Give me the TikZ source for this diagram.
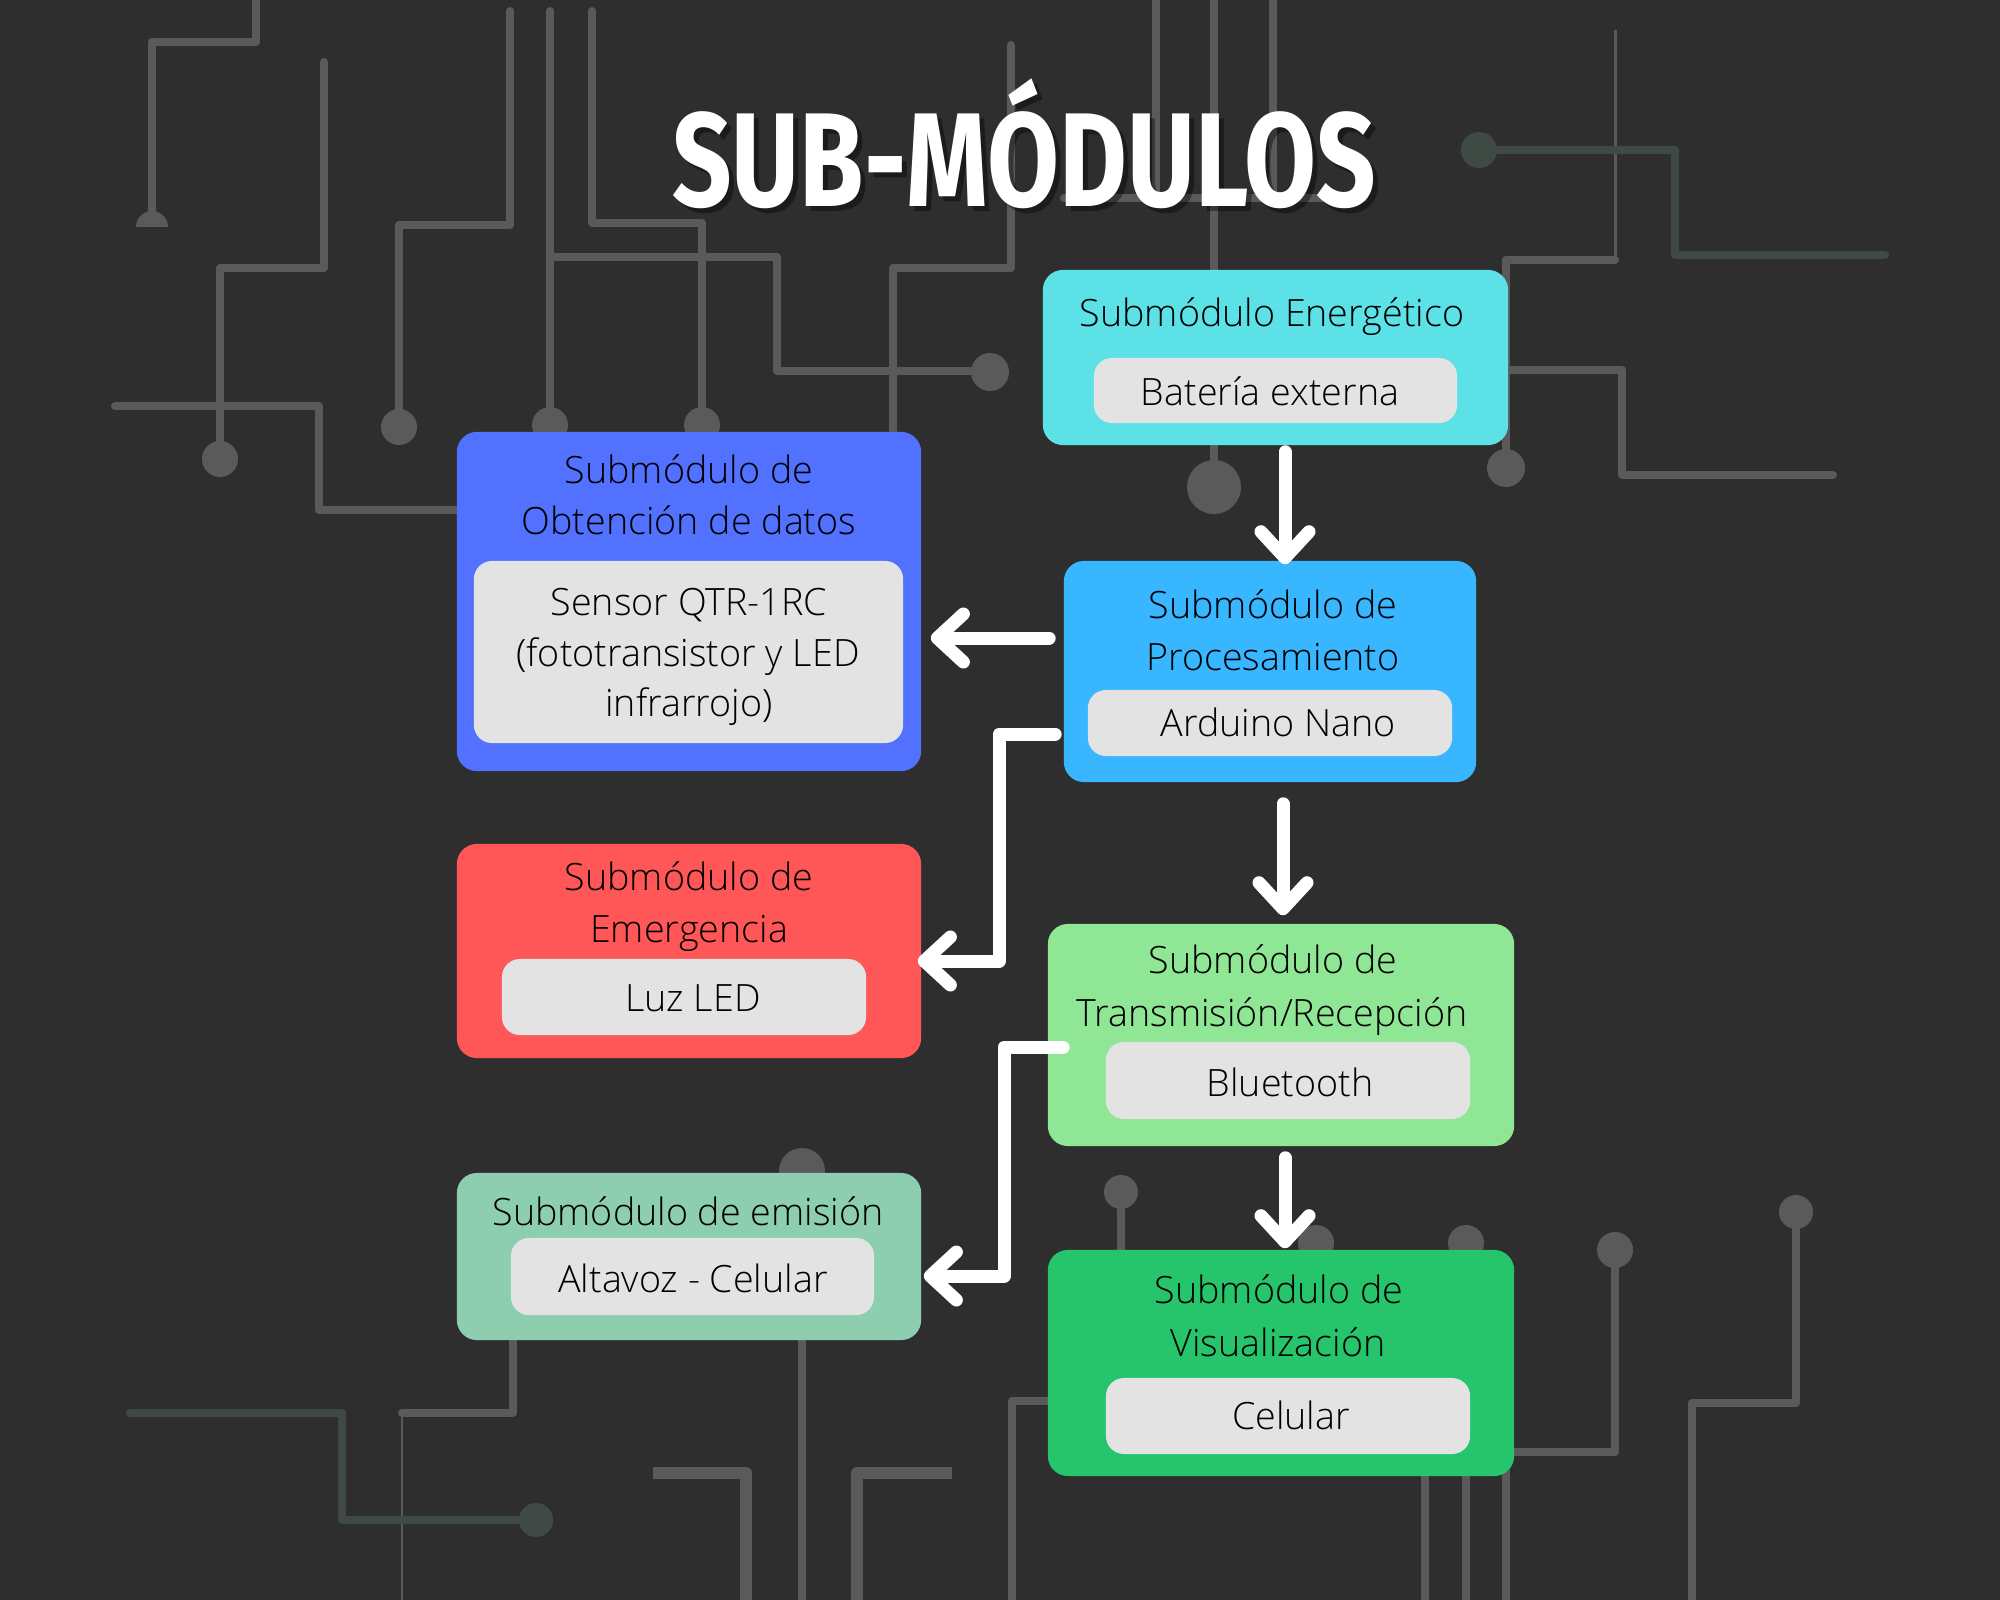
\documentclass[tikz,border=0pt]{standalone}
\usepackage{fontspec}
\setmainfont{Open Sans}[UprightFont={* Light}]
\newfontfamily\ttlfont{Fira Sans}
\usetikzlibrary{arrows.meta}
\definecolor{bg}{HTML}{2E2E2E}
\definecolor{cEn}{HTML}{5CE1E6}
\definecolor{cPr}{HTML}{38B6FF}
\definecolor{cOb}{HTML}{5271FF}
\definecolor{cEm}{HTML}{FF5757}
\definecolor{cEs}{HTML}{8DCEB0}
\definecolor{cTr}{HTML}{8FE695}
\definecolor{cVi}{HTML}{26C46B}
\definecolor{cIn}{HTML}{E3E3E3}
\definecolor{cLine}{HTML}{5A5A5A}
\definecolor{cGr}{HTML}{3F4A44}
\begin{document}
\begin{tikzpicture}[x=0.01cm,y=-0.01cm,
  trace/.style={draw=cLine, line width=0.08cm, line cap=round, line join=round},
  gtrace/.style={draw=cGr, line width=0.08cm, line cap=round, line join=round},
  pad/.style={fill=cLine},
  gpad/.style={fill=cGr},
  box/.style={rounded corners=0.2cm, inner sep=0pt, draw=none},
  inbox/.style={rounded corners=0.18cm, inner sep=0pt, draw=none, fill=cIn},
  txt/.style={font=\fontsize{10.7pt}{12pt}\selectfont, text=black, inner sep=0pt, anchor=base},
  arr/.style={draw=white, line width=0.13cm, line cap=round, line join=round,
    -{Straight Barb[length=0.26cm,width=0.48cm,round]}},
  ttl/.style={font=\ttlfont\bfseries\fontsize{38pt}{40pt}\selectfont, inner sep=0pt, anchor=base}
]
% background
\fill[bg] (0,0) rectangle (2000,1600);
\useasboundingbox (0,0) rectangle (2000,1600);

% ---------- circuit traces ----------
\draw[trace] (256,0) -- (256,42) -- (152,42) -- (152,218);
\fill[pad] (136,227) arc[start angle=180,end angle=0,radius=0.16cm] -- cycle;
\draw[trace] (324,62) -- (324,268) -- (220,268) -- (220,459);
\fill[pad] (220,459) circle[radius=0.18cm];
\draw[trace] (510,11) -- (510,225) -- (399,225) -- (399,427);
\fill[pad] (399,427) circle[radius=0.18cm];
\draw[trace] (550,11) -- (550,425);
\fill[pad] (550,425) circle[radius=0.18cm];
\draw[trace] (592,11) -- (592,223) -- (702,223) -- (702,425);
\fill[pad] (702,425) circle[radius=0.18cm];
\draw[trace] (550,257) -- (777,257) -- (777,371) -- (990,371);
\fill[pad] (990,372) circle[radius=0.19cm];
\draw[trace] (115,406) -- (319,406) -- (319,510) -- (456,510);
\draw[trace] (893,440) -- (893,268) -- (1011,268) -- (1011,45);
\draw[trace] (1156,0) -- (1156,198);
\draw[trace] (1273,0) -- (1273,198);
\draw[trace] (1064,198) -- (1364,198);
\draw[trace] (1214,0) -- (1214,487);
\fill[pad] (1214,487) circle[radius=0.27cm];
\draw[draw=cLine, line width=0.03cm] (1615,30) -- (1615,260);
\draw[trace] (1615,260) -- (1506,260) -- (1506,468);
\fill[pad] (1506,468) circle[radius=0.19cm];
\draw[trace] (1508,370) -- (1622,370) -- (1622,475) -- (1833,475);
\draw[gtrace] (1479,150) -- (1675,150) -- (1675,255) -- (1885,255);
\fill[gpad] (1479,150) circle[radius=0.18cm];
% bottom
\draw[trace] (802,1171) -- (802,1600);
\fill[pad] (802,1171) circle[radius=0.23cm];
\draw[trace] (513,1340) -- (513,1413) -- (402,1413);
\draw[draw=cLine, line width=0.025cm] (402,1413) -- (402,1600);
\draw[gtrace] (130,1413) -- (342,1413) -- (342,1520) -- (536,1520);
\fill[gpad] (536,1520) circle[radius=0.17cm];
\draw[trace, line width=0.12cm, line cap=butt] (653,1473) -- (746,1473) -- (746,1600);
\draw[trace, line width=0.12cm, line cap=butt] (952,1473) -- (857,1473) -- (857,1600);
\draw[trace] (1121,1192) -- (1121,1250);
\fill[pad] (1121,1192) circle[radius=0.17cm];
\fill[pad] (1316,1243) circle[radius=0.18cm];
\fill[pad] (1466,1243) circle[radius=0.18cm];
\draw[trace] (1425,1470) -- (1425,1600);
\draw[trace] (1466,1470) -- (1466,1600);
\draw[trace] (1506,1470) -- (1506,1600);
\draw[trace] (1615,1250) -- (1615,1452) -- (1514,1452);
\fill[pad] (1615,1250) circle[radius=0.18cm];
\draw[trace] (1796,1212) -- (1796,1403) -- (1692,1403) -- (1692,1600);
\fill[pad] (1796,1212) circle[radius=0.17cm];
\draw[trace] (1048,1401) -- (1012,1401) -- (1012,1600);

% ---------- title ----------
\node[ttl, text=black, opacity=0.4] at (1029,212) {\scalebox{0.78}[1]{SUB-MÓDULOS}};
\node[ttl, text=white] (title) at (1024,207) {\scalebox{0.78}[1]{SUB-MÓDULOS}};

% ---------- boxes ----------
% Energetico
\node[box, fill=cEn, minimum width=4.65cm, minimum height=1.75cm] (energ) at (1275.5,357.5) {};
\node[inbox, minimum width=3.63cm, minimum height=0.65cm] (energI) at (1275.5,390.5) {};
\node[txt] (energT) at (1272,326) {Submódulo Energético};
\node[txt] (energS) at (1270,405) {Batería externa};
% Procesamiento
\node[box, fill=cPr, minimum width=4.12cm, minimum height=2.21cm] (proc) at (1270,671.5) {};
\node[inbox, minimum width=3.64cm, minimum height=0.66cm] (procI) at (1270,723) {};
\node[txt] (procT1) at (1273,618) {Submódulo de};
\node[txt] (procT2) at (1273,670) {Procesamiento};
\node[txt] (procS) at (1278,736) {Arduino Nano};
% Obtencion
\node[box, fill=cOb, minimum width=4.64cm, minimum height=3.39cm] (obt) at (689,601.5) {};
\node[inbox, minimum width=4.29cm, minimum height=1.82cm] (obtI) at (688.5,652) {};
\node[txt] (obtT1) at (689,483) {Submódulo de};
\node[txt] (obtT2) at (689,534) {Obtención de datos};
\node[txt] (obtS1) at (689,615) {Sensor QTR-1RC};
\node[txt] (obtS2) at (688,666) {(fototransistor y LED};
\node[txt] (obtS3) at (689,716) {infrarrojo)};
% Emergencia
\node[box, fill=cEm, minimum width=4.64cm, minimum height=2.14cm] (emerg) at (689,951) {};
\node[inbox, minimum width=3.64cm, minimum height=0.76cm] (emergI) at (684,997) {};
\node[txt] (emergT1) at (689,890) {Submódulo de};
\node[txt] (emergT2) at (689,942) {Emergencia};
\node[txt] (emergS) at (693,1011) {Luz LED};
% Emision
\node[box, fill=cEs, minimum width=4.64cm, minimum height=1.67cm] (emis) at (689,1256.5) {};
\node[inbox, minimum width=3.63cm, minimum height=0.77cm] (emisI) at (692.5,1276.5) {};
\node[txt] (emisT) at (688,1225) {Submódulo de emisión};
\node[txt] (emisS) at (693,1292) {Altavoz - Celular};
% Transmision
\node[box, fill=cTr, minimum width=4.66cm, minimum height=2.22cm] (trans) at (1281,1035) {};
\node[inbox, minimum width=3.64cm, minimum height=0.77cm] (transI) at (1288,1080.5) {};
\node[txt] (transT1) at (1273,973) {Submódulo de};
\node[txt] (transT2) at (1272,1026) {Transmisión/Recepción};
\node[txt] (transS) at (1290,1096) {Bluetooth};
% Visualizacion
\node[box, fill=cVi, minimum width=4.66cm, minimum height=2.26cm] (vis) at (1281,1363) {};
\node[inbox, minimum width=3.64cm, minimum height=0.76cm] (visI) at (1288,1416) {};
\node[txt] (visT1) at (1279,1303) {Submódulo de};
\node[txt] (visT2) at (1278,1356) {Visualización};
\node[txt] (visS) at (1291,1429) {Celular};

% ---------- connectors ----------
\coordinate (xa) at (1285,0);
\coordinate (xd) at (1283,0);
\coordinate (ya) at (0,638);
\coordinate (yb) at (0,734);
\coordinate (xb) at (999,0);
\coordinate (yc) at (0,961);
\coordinate (ye) at (0,1047);
\coordinate (xe) at (1004,0);
\coordinate (yf) at (0,1276);

\draw[arr] ([yshift=-0.06cm]energ.south -| xa) -- ([yshift=-0.04cm]proc.north -| xa);
\draw[arr] ([xshift=-0.14cm]proc.west |- ya) -- ([xshift=0.09cm]obt.east |- ya);
\draw[arr] ([xshift=-0.08cm]proc.west |- yb) -| (xb |- yc) -- ([xshift=-0.04cm]emerg.east |- yc);
\draw[arr] ([yshift=-0.21cm]proc.south -| xd) -- ([yshift=0.08cm]trans.north -| xd);
\draw[arr] ([xshift=0.16cm]trans.west |- ye) -| (xe |- yf) -- ([xshift=0.02cm]emis.east |- yf);
\draw[arr] ([yshift=-0.11cm]trans.south -| xa) -- ([yshift=0.01cm]vis.north -| xa);
\end{tikzpicture}
\end{document}
